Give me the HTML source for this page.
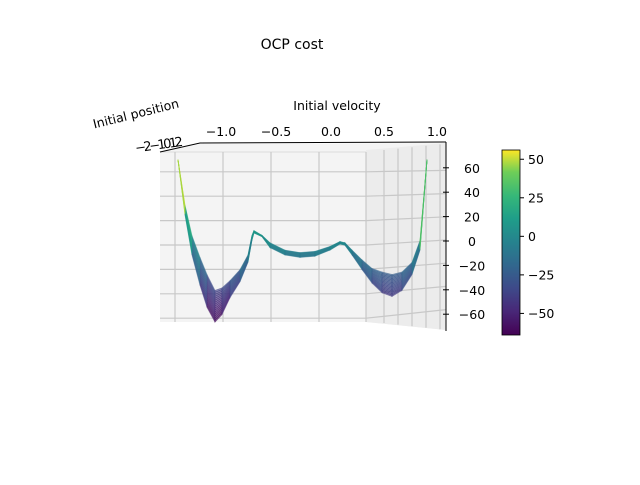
<!DOCTYPE html>
<html><head><meta charset="utf-8"><style>
html,body{margin:0;padding:0;background:#fff;}
svg text{font-family:"DejaVu Sans","Liberation Sans",sans-serif;fill:#000;}
</style></head><body>
<svg id="chart" width="640" height="480" viewBox="0 0 640 480" xmlns="http://www.w3.org/2000/svg">
<defs>
<linearGradient id="vir" x1="0" y1="1" x2="0" y2="0">
<stop offset="0" stop-color="#440154"/><stop offset="0.13" stop-color="#482878"/><stop offset="0.25" stop-color="#3e4989"/><stop offset="0.38" stop-color="#31688e"/><stop offset="0.5" stop-color="#26828e"/><stop offset="0.63" stop-color="#1f9e89"/><stop offset="0.75" stop-color="#35b779"/><stop offset="0.88" stop-color="#6ece58"/><stop offset="1" stop-color="#fde725"/>
</linearGradient>
</defs>
<text x="292" y="49" font-size="14" text-anchor="middle">OCP cost</text>
<g>
<polygon points="160,152 200,144 446,143 446,330 366,322 160,322" fill="#f4f4f4"/>
<polygon points="366,150 446,143 446,330 366,322" fill="#ececec"/>
<line x1="160" y1="152" x2="366" y2="152" stroke="#ddd"/>
</g>
<g id="grid" stroke="#c8c8c8" stroke-width="1.2"></g>
<g stroke="#000" stroke-width="1" fill="none">
<polyline points="160,152 200,143 446,142"/>
<line x1="446" y1="142" x2="446" y2="331"/>
</g>
<g id="surface"></g>
<g id="zaxis"></g>
<text x="337" y="110" font-size="12.5" text-anchor="middle">Initial velocity</text>
<g font-size="12.5" text-anchor="middle">
<text x="221" y="136">−1.0</text><text x="276" y="136">−0.5</text><text x="331" y="136">0.0</text><text x="384" y="136">0.5</text><text x="437" y="136">1.0</text>
</g>
<text x="136" y="118" font-size="12.5" text-anchor="middle" transform="rotate(-14 136 114)">Initial position</text>
<text x="135" y="149" font-size="13" letter-spacing="-2.5" transform="rotate(-8 160 145)">−2−1012</text>
<text x="507" y="237" font-size="12.5" text-anchor="middle" transform="rotate(90 507 237)">OCP cost</text>
<g id="cbar">
<rect x="502" y="150" width="18" height="185" fill="url(#vir)" stroke="#000" stroke-width="0.8"/>
</g>
</svg>
<script>
const velocity=[-1.0,-0.944,-0.888,-0.823,-0.767,-0.703,-0.647,-0.582,-0.502,-0.438,-0.406,-0.39,-0.325,-0.261,-0.141,-0.02,0.1,0.221,0.301,0.341,0.398,0.478,0.558,0.639,0.719,0.799,0.88,0.944,1.0];
const costFront=[69,24,-9,-34,-52,-64,-58,-44,-31,-15,3,9,6,-3,-9,-11,-10,-5,0,-1,-9,-21,-32,-40,-43,-38,-25,-5,69];
const costBack=[69,32,7,-11,-25,-38,-36,-30,-21,-9,7,11,7,1,-5,-7,-6,-2,2,1,-5,-13,-20,-23,-25,-23,-15,3,69];
const zTicks=[60,40,20,0,-20,-40,-60];
const cbTicks=[50,25,0,-25,-50];
const cMin=-64,cMax=56;
const NS="http://www.w3.org/2000/svg";
const X=v=>302.5+v*124.5;
const Y=z=>244-z*1.22;
const CB=z=>335-(z-cMin)/(cMax-cMin)*185;
const stops=[[68,1,84],[72,40,120],[62,73,137],[49,104,142],[38,130,142],[31,158,137],[53,183,121],[110,206,88],[253,231,37]];
function vir(z){let t=Math.max(0,Math.min(1,(z-cMin)/(cMax-cMin)))*8;let i=Math.min(7,Math.floor(t)),f=t-i;const a=stops[i],b=stops[i+1];return `rgb(${a.map((c,k)=>Math.round(c+(b[k]-c)*f)).join(',')})`;}
function mk(tag,attrs,parent){const e=document.createElementNS(NS,tag);for(const k in attrs)e.setAttribute(k,attrs[k]);parent.appendChild(e);return e;}
const g=document.getElementById('grid');
[175,223,271,319,366].forEach(x=>{const l=mk('line',{x1:x,y1:152,x2:x,y2:322},g);

});
[384,398,412,426,440].forEach((x,i)=>{const l=mk('line',{x1:x,y1:150-i*1.4,x2:x,y2:323+i*1.6},g);

});
zTicks.forEach(z=>{const y=Y(z);const l=mk('polyline',{points:`160,${y+1} 366,${y+1} 446,${y-4+z*0.06}`,fill:'none'},g);

});
const za=document.getElementById('zaxis');
zTicks.forEach(z=>{const y=Y(z);mk('line',{x1:443,y1:y-3,x2:449,y2:y-3,stroke:'#000'},za);const t=mk('text',{x:472,y:y+2,'font-size':12.5,'text-anchor':'middle'},za);t.textContent=(z<0?'−':'')+Math.abs(z);

});
const s=document.getElementById('surface');const N=16;
const curve=t=>velocity.map((v,i)=>[X(v),costBack[i]+(costFront[i]-costBack[i])*t]);
for(let k=0;k<N;k++){const a=curve(k/N),b=curve((k+1)/N);
for(let i=0;i<velocity.length-1;i++){const zAvg=(a[i][1]+a[i+1][1]+b[i][1]+b[i+1][1])/4;
const p=mk('polygon',{points:`${a[i][0]},${Y(a[i][1])} ${a[i+1][0]},${Y(a[i+1][1])} ${b[i+1][0]},${Y(b[i+1][1])} ${b[i][0]},${Y(b[i][1])}`,fill:vir(zAvg),'fill-opacity':0.6,stroke:vir(zAvg),'stroke-opacity':0.5,'stroke-width':0.8},s);

}}
const cb=document.getElementById('cbar');
cbTicks.forEach(z=>{const y=CB(z);mk('line',{x1:520,y1:y,x2:524,y2:y,stroke:'#000'},cb);const t=mk('text',{x:528,y:y+4.5,'font-size':12.5},cb);t.textContent=(z<0?'−':'')+Math.abs(z);

});
</script>
</body></html>
